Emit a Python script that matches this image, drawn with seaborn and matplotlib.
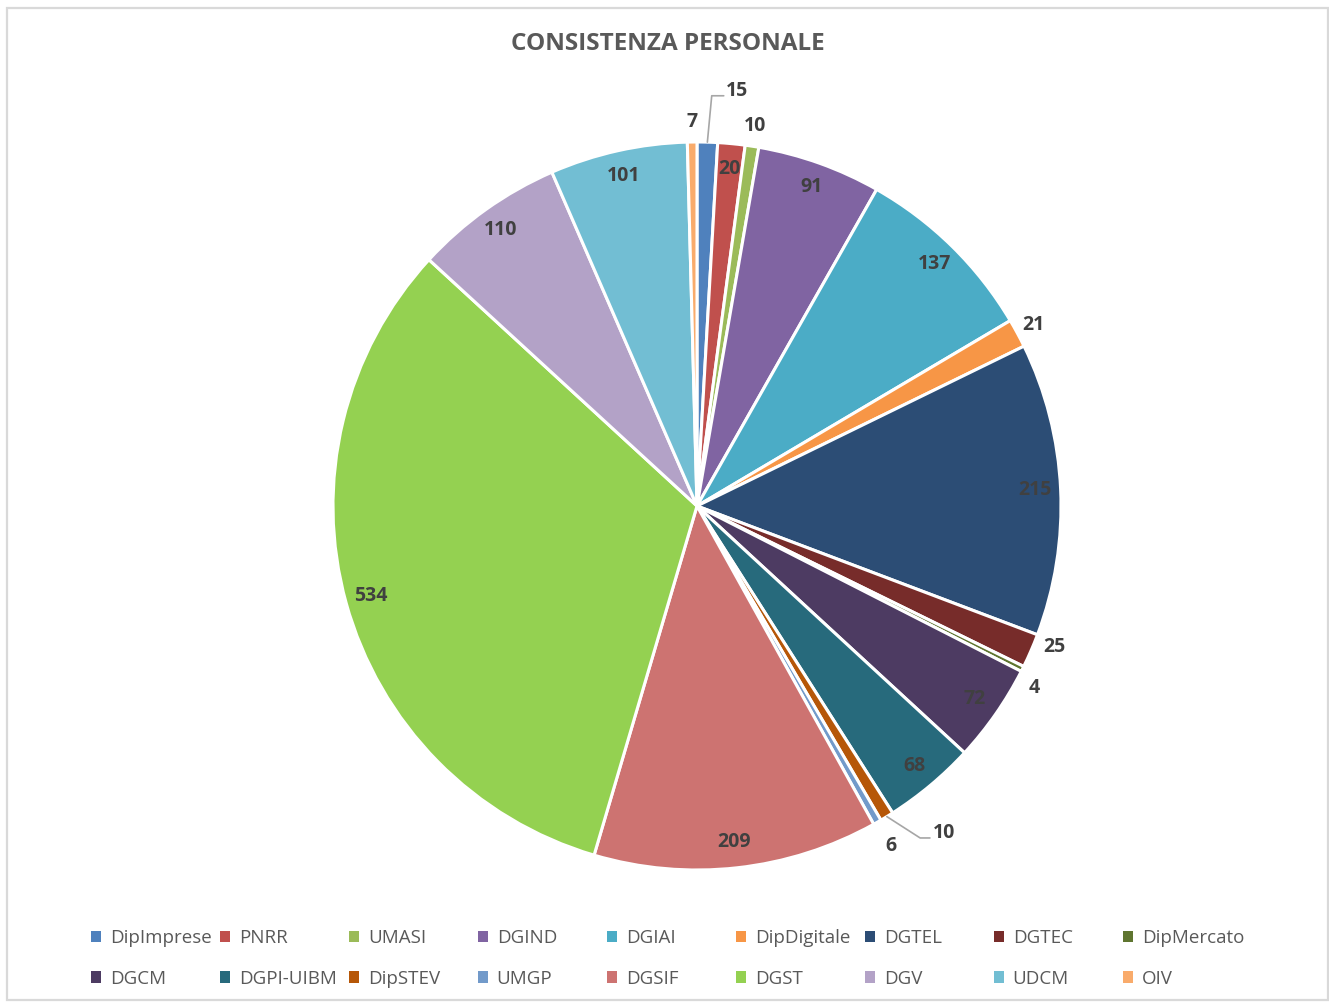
import numpy as np
import matplotlib
matplotlib.use("Agg")
import matplotlib.pyplot as plt
from matplotlib.patches import Patch, Rectangle
import seaborn as sns

sns.set_theme(style="white")
plt.rcParams['font.family'] = ['Open Sans', 'DejaVu Sans']

# ---------------- data ----------------
categories = ["DipImprese", "PNRR", "UMASI", "DGIND", "DGIAI", "DipDigitale",
              "DGTEL", "DGTEC", "DipMercato", "DGCM", "DGPI-UIBM", "DipSTEV",
              "UMGP", "DGSIF", "DGST", "DGV", "UDCM", "OIV"]
values = [15, 20, 10, 91, 137, 21, 215, 25, 4, 72, 68, 10, 6, 209, 534, 110, 101, 7]
colors = ["#4F81BD", "#C0504D", "#9BBB59", "#8064A2", "#4BACC6", "#F79646",
          "#2C4D75", "#772C2A", "#5F7530", "#4D3B62", "#276A7C", "#B65708",
          "#729ACA", "#CD7371", "#94D151", "#B3A2C7", "#72BED3", "#F9AB6B"]
title = "CONSISTENZA PERSONALE"

# ---------------- layout ----------------
W, H = 1329, 1005
fig = plt.figure(figsize=(W / 100, H / 100), dpi=100)
fig.patch.set_facecolor("white")

cx, cy, R = 697, 506, 364
lim = 1.2
side = 2 * lim * R
ax = fig.add_axes([(cx - side / 2) / W, (H - cy - side / 2) / H, side / W, side / H])

wedges, _ = ax.pie(values, colors=colors, startangle=90, counterclock=False,
                   radius=1.0, wedgeprops=dict(edgecolor="white", linewidth=2.2))
ax.set_xlim(-lim, lim)
ax.set_ylim(-lim, lim)
ax.set_aspect("equal")
ax.axis("off")

# label placement: (radius factor, extra angular shift in degrees) for outside labels
outside = {"OIV": (1.055, 0), "UMASI": (1.055, 0), "DipDigitale": (1.05, 0),
           "DGTEC": (1.057, 1.9), "DipMercato": (1.052, -1.8), "UMGP": (1.075, 0)}
label_color = "#404040"
lfs = 14

for w, name, v in zip(wedges, categories, values):
    mid = np.deg2rad((w.theta1 + w.theta2) / 2)
    if name == "DipImprese":
        p0 = (np.cos(mid) * 1.0, np.sin(mid) * 1.0)
        p1 = (p0[0] + 0.012, 1.127)
        p2 = (p1[0] + 0.033, 1.127)
        ax.plot([p0[0], p1[0], p2[0]], [p0[1], p1[1], p2[1]], color="#A6A6A6",
                lw=1.2, clip_on=False)
        ax.text(p2[0] + 0.005, 1.14, str(v), ha="left", va="center",
                fontsize=lfs, fontweight="bold", color=label_color, clip_on=False)
    elif name == "DipSTEV":
        p0 = (np.cos(mid) * 1.0, np.sin(mid) * 1.0)
        p1 = (0.613, -0.912)
        p2 = (0.64, -0.912)
        ax.plot([p0[0], p1[0], p2[0]], [p0[1], p1[1], p2[1]], color="#A6A6A6",
                lw=1.2, clip_on=False)
        ax.text(p2[0] + 0.008, -0.898, str(v), ha="left", va="center",
                fontsize=lfs, fontweight="bold", color=label_color, clip_on=False)
    elif name in outside:
        rf, shift = outside[name]
        a = mid + np.deg2rad(shift)
        ax.text(np.cos(a) * rf, np.sin(a) * rf, str(v), ha="center", va="center",
                fontsize=lfs, fontweight="bold", color=label_color, clip_on=False)
    else:
        ax.text(np.cos(mid) * 0.93, np.sin(mid) * 0.93, str(v), ha="center",
                va="center", fontsize=lfs, fontweight="bold", color=label_color)

# title
fig.text(668 / W, 1 - 44 / H, title, ha="center", va="center", fontsize=17.5,
         fontweight="bold", color="#595959")

# legend: 9 columns x 2 rows, row-major order
ncol = 9
for j in range(ncol):
    idx = [j, j + ncol]
    handles = [Patch(facecolor=colors[i], edgecolor="none") for i in idx]
    labels = [categories[i] for i in idx]
    x0 = (91 + 129 * j) / W
    fig.legend(handles, labels, loc="upper left", bbox_to_anchor=(x0, 1 - 929 / H),
               frameon=False, fontsize=13.5, handlelength=0.55, handleheight=0.55,
               handletextpad=0.45, labelspacing=1.2, borderpad=0, borderaxespad=0,
               labelcolor="#595959")

# chart frame
fig.add_artist(Rectangle((7 / W, 1 - 1000 / H), (1328 - 7) / W, (1000 - 8) / H,
                         transform=fig.transFigure, fill=False,
                         edgecolor="#D9D9D9", linewidth=1.6))

fig.savefig("out.png", dpi=100, facecolor="white")
